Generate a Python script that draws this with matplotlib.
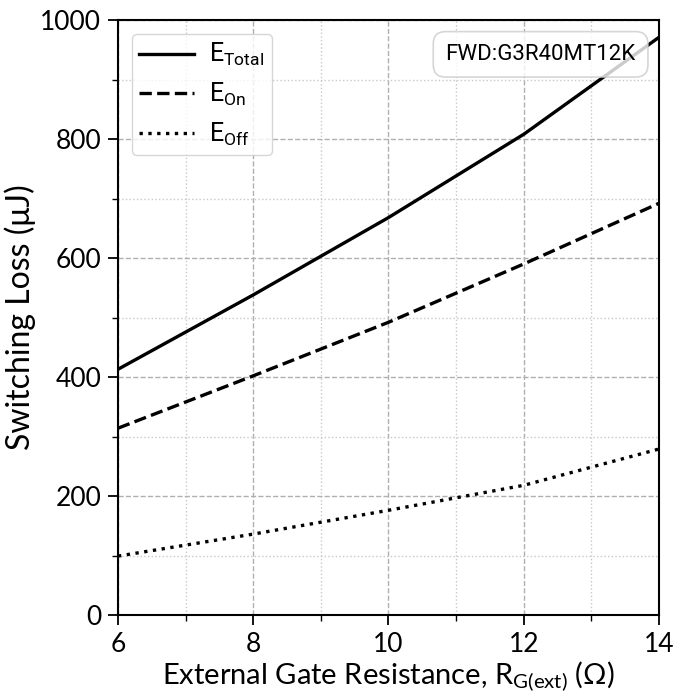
import matplotlib
matplotlib.use("Agg")
import matplotlib.pyplot as plt
from matplotlib.ticker import MultipleLocator

# Values
rg = [6, 8, 10, 12, 14]
e_on = [314, 402, 492, 590, 692]
e_off = [99, 136, 176, 218, 279]
e_total = [413, 538, 668, 808, 971]

plt.rcParams["font.family"] = ["Lato", "DejaVu Sans"]

fig = plt.figure(figsize=(6.75, 6.98), dpi=100)
ax = fig.add_axes([0.1748, 0.1189, 0.8015, 0.8524])

ax.plot(rg, e_total, color="black", lw=2.4, ls="-", label=r"$\mathregular{E_{Total}}$")
ax.plot(rg, e_on, color="black", lw=2.4, ls="--", label=r"$\mathregular{E_{On}}$")
ax.plot(rg, e_off, color="black", lw=2.4, ls=":", label=r"$\mathregular{E_{Off}}$")

ax.set_xlim(6, 14)
ax.set_ylim(0, 1000)
ax.xaxis.set_major_locator(MultipleLocator(2))
ax.xaxis.set_minor_locator(MultipleLocator(1))
ax.yaxis.set_major_locator(MultipleLocator(200))
ax.yaxis.set_minor_locator(MultipleLocator(100))

ax.grid(True, which="major", ls="--", color="#b0b0b0", lw=1.0)
ax.grid(True, which="minor", ls=":", color="#c8c8c8", lw=1.0)
ax.set_axisbelow(True)

for s in ax.spines.values():
    s.set_linewidth(1.5)
ax.tick_params(which="major", labelsize=19, width=1.3, length=7, pad=5)
ax.tick_params(which="minor", width=1.0, length=4)

ax.set_xlabel(r"External Gate Resistance, $\mathregular{R_{G(ext)}}$ (Ω)", fontsize=21, labelpad=2)
ax.set_ylabel("Switching Loss (μJ)", fontsize=23, labelpad=3)

leg = ax.legend(loc="upper left", prop={"family": "Roboto", "size": 18},
                handlelength=2.2, handletextpad=0.6, borderaxespad=0.55,
                borderpad=0.3, labelspacing=0.5)

ax.text(0.957, 0.960, "FWD:G3R40MT12K", transform=ax.transAxes, ha="right", va="top",
        family="Roboto", fontsize=16,
        bbox=dict(boxstyle="round,pad=0.55", fc="white", ec="#cccccc", lw=1.2, alpha=0.8))

fig.savefig("out.png", dpi=100)
